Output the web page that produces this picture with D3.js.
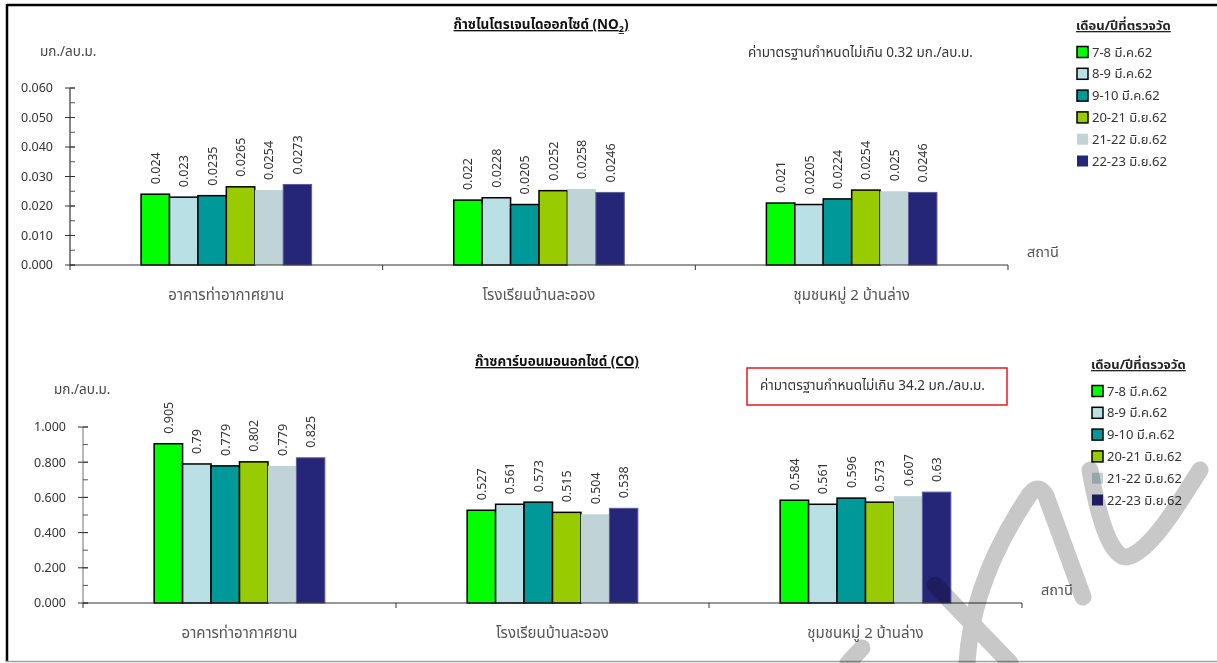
<!DOCTYPE html>
<html>
<head>
<meta charset="utf-8">
<script src="https://cdn.jsdelivr.net/npm/d3@7"></script>
<style>
  body { margin: 0; background: #fff; }
  svg { display: block; }
  text { font-family: Tahoma, "Noto Sans", "Noto Sans Thai", sans-serif; }
</style>
</head>
<body>
<div id="chart"></div>
<script>
// stations (x categories) and measuring periods (series)
const stations = ["อาคารท่าอากาศยาน", "โรงเรียนบ้านละออง", "ชุมชนหมู่ 2 บ้านล่าง"];
const periods = ["7-8 มี.ค.62", "8-9 มี.ค.62", "9-10 มี.ค.62", "20-21 มิ.ย.62", "21-22 มิ.ย.62", "22-23 มิ.ย.62"];
const colors = ["#00ff00", "#b9e0e4", "#009999", "#99cc00", "#c0d4d8", "#262678"];

// NO2, one row per station
const no2Values = [
  [0.024, 0.023, 0.0235, 0.0265, 0.0254, 0.0273],
  [0.022, 0.0228, 0.0205, 0.0252, 0.0258, 0.0246],
  [0.021, 0.0205, 0.0224, 0.0254, 0.025, 0.0246],
];
const no2Ticks = [0, 0.01, 0.02, 0.03, 0.04, 0.05, 0.06];

// CO, one row per station
const coValues = [
  [0.905, 0.79, 0.779, 0.802, 0.779, 0.825],
  [0.527, 0.561, 0.573, 0.515, 0.504, 0.538],
  [0.584, 0.561, 0.596, 0.573, 0.607, 0.63],
];
const coTicks = [0, 0.2, 0.4, 0.6, 0.8, 1.0];

const width = 1217;
const height = 663;

const svg = d3.select("#chart").append("svg").attr("width", width).attr("height", height);

// frame
svg.append("line").attr("x1", 7).attr("x2", width).attr("y1", 5).attr("y2", 5)
  .attr("stroke", "#000").attr("stroke-width", 2.5);
svg.append("line").attr("x1", 7).attr("x2", 7).attr("y1", 4).attr("y2", 662)
  .attr("stroke", "#000").attr("stroke-width", 2.5);
svg.append("line").attr("x1", 6).attr("x2", width).attr("y1", 661.5).attr("y2", 661.5)
  .attr("stroke", "#a0a0a0").attr("stroke-width", 1.5);

function drawChart(cfg) {
  const g = svg.append("g");

  const x = d3.scaleBand().domain(stations).range([cfg.left, cfg.right]);
  const x1 = d3.scaleBand().domain(periods).range([0, x.bandwidth()]).paddingOuter(2.5);
  const y = d3.scaleLinear().domain([0, cfg.max]).range([cfg.bottom, cfg.top]);

  // bars
  const groups = g.selectAll("g.station")
    .data(cfg.values)
    .join("g")
    .attr("transform", (d, i) => `translate(${x(stations[i])},0)`);

  groups.selectAll("rect")
    .data((d) => d.map((v, j) => ({ v, j })))
    .join("rect")
    .attr("x", (d) => x1(periods[d.j]))
    .attr("width", x1.bandwidth())
    .attr("y", (d) => y(d.v))
    .attr("height", (d) => y(0) - y(d.v))
    .attr("fill", (d) => colors[d.j])
    .attr("stroke", (d) => (d.j < 4 ? "#000" : d.j === 5 ? "#5c5c9c" : "none"))
    .attr("stroke-width", (d) => (d.j < 4 ? 1.5 : 1));

  // value labels, rotated
  groups.selectAll("text")
    .data((d) => d.map((v, j) => ({ v, j })))
    .join("text")
    .attr("transform", (d) => `translate(${x1(periods[d.j]) + x1.bandwidth() / 2 + 4.5},${y(d.v) - 10}) rotate(-90)`)
    .attr("font-size", 12.5)
    .attr("fill", "#333")
    .text((d) => String(d.v));

  // y axis
  const yAxis = g.append("g").attr("transform", `translate(${cfg.left},0)`);
  yAxis.append("line").attr("x1", 0).attr("x2", 0).attr("y1", cfg.top).attr("y2", cfg.bottom)
    .attr("stroke", cfg.yLine).attr("stroke-width", 1.2);
  const minor = d3.range(0, cfg.max + 1e-9, cfg.max / (cfg.ticks.length - 1) / 2);
  yAxis.selectAll("line.minor")
    .data(minor)
    .join("line")
    .attr("class", "minor")
    .attr("x1", 0).attr("x2", 5)
    .attr("y1", (d) => y(d)).attr("y2", (d) => y(d))
    .attr("stroke", "#555");
  yAxis.selectAll("line.major")
    .data(cfg.ticks)
    .join("line")
    .attr("class", "major")
    .attr("x1", -5).attr("x2", 5)
    .attr("y1", (d) => y(d)).attr("y2", (d) => y(d))
    .attr("stroke", "#333");
  yAxis.selectAll("text")
    .data(cfg.ticks)
    .join("text")
    .attr("x", -17)
    .attr("y", (d) => y(d))
    .attr("dy", "0.35em")
    .attr("text-anchor", "end")
    .attr("font-size", 12.5)
    .attr("fill", "#333")
    .text((d) => d3.format(".3f")(d));

  // x axis
  const xAxis = g.append("g").attr("transform", `translate(0,${cfg.bottom})`);
  xAxis.append("line").attr("x1", cfg.left).attr("x2", cfg.right).attr("y1", 0).attr("y2", 0)
    .attr("stroke", "#333").attr("stroke-width", 1.2);
  xAxis.selectAll("line.tick")
    .data(stations.map((s) => x(s)).concat([cfg.right]))
    .join("line")
    .attr("class", "tick")
    .attr("x1", (d) => d).attr("x2", (d) => d)
    .attr("y1", 0).attr("y2", 5)
    .attr("stroke", "#333");
  xAxis.selectAll("text")
    .data(stations)
    .join("text")
    .attr("x", (d) => x(d) + x.bandwidth() / 2)
    .attr("y", cfg.catY - cfg.bottom)
    .attr("text-anchor", "middle")
    .attr("font-size", 15)
    .attr("fill", "#555")
    .text((d) => d);

  g.append("text").attr("x", cfg.right + 19).attr("y", cfg.bottom - 8)
    .attr("font-size", 14.5).attr("fill", "#555").text("สถานี");

  // unit label
  g.append("text").attr("x", cfg.unitX).attr("y", cfg.unitY)
    .attr("font-size", 13.5).attr("fill", "#444").text("มก./ลบ.ม.");

  // title
  const title = g.append("text").attr("x", cfg.titleX).attr("y", cfg.titleY)
    .attr("text-anchor", "middle")
    .attr("font-size", 13.5).attr("font-weight", "bold").attr("fill", "#111")
    .attr("text-decoration", "underline");
  title.append("tspan").text(cfg.title);
  if (cfg.sub) {
    title.append("tspan").attr("font-size", 9).attr("dy", 3).text(cfg.sub);
    title.append("tspan").attr("dy", -3).text(")");
  }

  // standard note
  g.append("text").attr("x", cfg.noteX).attr("y", cfg.noteY)
    .attr("font-size", 13.5).attr("fill", "#333").text(cfg.note);
  if (cfg.noteBox) {
    g.append("rect").attr("x", cfg.noteBox[0]).attr("y", cfg.noteBox[1])
      .attr("width", cfg.noteBox[2]).attr("height", cfg.noteBox[3])
      .attr("fill", "none").attr("stroke", "#e8191e").attr("stroke-width", 1.5);
  }

  // legend
  const lg = g.append("g").attr("transform", `translate(${cfg.legendX},${cfg.legendY})`);
  lg.append("text").attr("x", -1).attr("y", -22)
    .attr("font-size", 13).attr("font-weight", "bold").attr("fill", "#222")
    .attr("text-decoration", "underline").text("เดือน/ปีที่ตรวจวัด");
  const items = lg.selectAll("g.item")
    .data(periods)
    .join("g")
    .attr("class", "item")
    .attr("transform", (d, i) => `translate(0,${i * 21.8})`);
  items.append("rect")
    .attr("x", 0).attr("y", -5.5).attr("width", 11).attr("height", 11)
    .attr("fill", (d, i) => colors[i])
    .attr("stroke", (d, i) => (i < 4 ? "#000" : "none"))
    .attr("stroke-width", 1.5);
  items.append("text")
    .attr("x", 15).attr("y", 0).attr("dy", "0.35em")
    .attr("font-size", 13).attr("fill", "#333")
    .text((d) => d);
}

drawChart({
  values: no2Values, ticks: no2Ticks, max: 0.06,
  left: 70, right: 1008, top: 88, bottom: 265, yLine: "#333", catY: 300,
  unitX: 40, unitY: 56,
  title: "ก๊าซไนโตรเจนไดออกไซด์ (NO", sub: "2", titleX: 541, titleY: 29,
  note: "ค่ามาตรฐานกำหนดไม่เกิน 0.32 มก./ลบ.ม.", noteX: 748, noteY: 57,
  legendX: 1077, legendY: 52,
});

drawChart({
  values: coValues, ticks: coTicks, max: 1.0,
  left: 83, right: 1022, top: 427, bottom: 603, yLine: "#888", catY: 638,
  unitX: 54, unitY: 394,
  title: "ก๊าซคาร์บอนมอนอกไซด์ (CO)", titleX: 557, titleY: 366,
  note: "ค่ามาตรฐานกำหนดไม่เกิน 34.2 มก./ลบ.ม.", noteX: 760, noteY: 390,
  noteBox: [747, 368, 260, 37],
  legendX: 1092, legendY: 391,
});

// watermark strokes (light gray, multiplied over the chart)
const watermark = [
  "M 848 663 L 862 648",
  "M 935 585 L 1010 663",
  "M 967 663 C 970 612, 988 556, 1030 494 C 1036 486, 1042 488, 1046 496 L 1083 597",
  "M 1090 470 C 1098 515, 1110 558, 1127 557 C 1150 552, 1178 505, 1200 470",
];
svg.append("g")
  .style("mix-blend-mode", "multiply")
  .selectAll("path")
  .data(watermark)
  .join("path")
  .attr("d", (d) => d)
  .attr("fill", "none")
  .attr("stroke", "#c8c8c8")
  .attr("stroke-width", 17)
  .attr("stroke-linecap", "round")
  .attr("stroke-linejoin", "round");
</script>
</body>
</html>
